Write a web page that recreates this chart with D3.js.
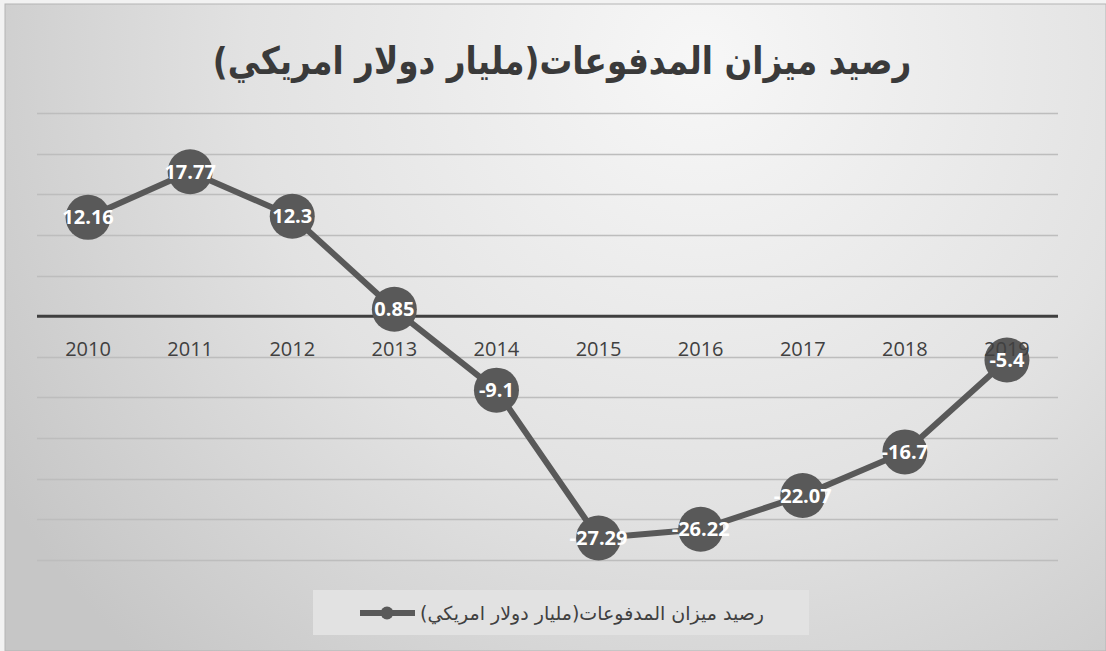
<!DOCTYPE html>
<html>
<head>
<meta charset="utf-8">
<script src="https://cdn.jsdelivr.net/npm/d3@7/dist/d3.min.js"></script>
<style>
  body { margin: 0; background: #f2f2f2; }
</style>
</head>
<body>
<div class="chart"></div>
<script>
// data
var years = ["2010", "2011", "2012", "2013", "2014", "2015", "2016", "2017", "2018", "2019"];
var balance = [12.16, 17.77, 12.3, 0.85, -9.1, -27.29, -26.22, -22.07, -16.7, -5.4];
var labels = ["12.16", "17.77", "12.3", "0.85", "-9.1", "-27.29", "-26.22", "-22.07", "-16.7", "-5.4"];
var gridTicks = [25, 20, 15, 10, 5, -5, -10, -15, -20, -25, -30];
var titleText = "رصيد ميزان المدفوعات(مليار دولار امريكي)";

var width = 1106, height = 651;
var lineColor = "#595959";

var svg = d3.select(".chart")
  .append("svg")
    .attr("width", width)
    .attr("height", height);

var defs = svg.append("defs");
var grad = defs.append("radialGradient")
  .attr("id", "bg")
  .attr("gradientUnits", "userSpaceOnUse")
  .attr("cx", 700).attr("cy", 60).attr("r", 820);
grad.append("stop").attr("offset", "0%").attr("stop-color", "#f7f7f7");
grad.append("stop").attr("offset", "55%").attr("stop-color", "#e2e2e2");
grad.append("stop").attr("offset", "100%").attr("stop-color", "#c6c6c6");

svg.append("rect")
  .attr("x", 5).attr("y", 4)
  .attr("width", width - 5).attr("height", height - 4)
  .attr("fill", "url(#bg)")
  .attr("stroke", "#b4b4b4")
  .attr("stroke-width", 1);

var x = d3.scaleBand()
  .domain(years)
  .range([37, 1058]);

var y = d3.scaleLinear()
  .domain([-30, 25])
  .range([560, 113]);

// gridlines
svg.selectAll(".grid")
  .data(gridTicks)
  .enter().append("line")
    .attr("class", "grid")
    .attr("x1", 37).attr("x2", 1058)
    .attr("y1", function(d) { return Math.round(y(d)) + 0.5; })
    .attr("y2", function(d) { return Math.round(y(d)) + 0.5; })
    .style("stroke", "#bdbdbd")
    .style("stroke-width", 1.3);

// zero line
svg.append("line")
  .attr("x1", 37).attr("x2", 1058)
  .attr("y1", y(0)).attr("y2", y(0))
  .style("stroke", "#3f3f3f")
  .style("stroke-width", 3);

// title (condensed a bit to look like the original bold Arabic face)
svg.append("g")
  .attr("transform", "translate(562,74) scale(0.86,1)")
  .append("text")
    .attr("x", 0)
    .attr("y", 0)
    .attr("direction", "rtl")
    .style("text-anchor", "middle")
    .style("font-family", "DejaVu Sans")
    .style("font-weight", "bold")
    .style("font-size", "38px")
    .style("fill", "#3a3a3a")
    .text(titleText);

var cx = function(d, i) { return x(years[i]) + x.bandwidth() / 2; };

var line = d3.line()
  .x(function(d, i) { return cx(d, i); })
  .y(function(d) { return y(d); });

svg.append("path")
  .datum(balance)
  .attr("d", line)
  .style("fill", "none")
  .style("stroke", lineColor)
  .style("stroke-width", 6)
  .style("stroke-linejoin", "round");

svg.selectAll(".dot")
  .data(balance)
  .enter().append("circle")
    .attr("class", "dot")
    .attr("cx", cx)
    .attr("cy", function(d) { return y(d); })
    .attr("r", 22.5)
    .style("fill", lineColor);

// category labels sit below the zero line
svg.selectAll(".year")
  .data(years)
  .enter().append("text")
    .attr("class", "year")
    .attr("x", function(d) { return x(d) + x.bandwidth() / 2; })
    .attr("y", y(0) + 40)
    .style("text-anchor", "middle")
    .style("font-family", "Open Sans")
    .style("font-size", "20px")
    .style("fill", "#404040")
    .text(function(d) { return d; });

// data labels
svg.selectAll(".val")
  .data(balance)
  .enter().append("text")
    .attr("class", "val")
    .attr("x", cx)
    .attr("y", function(d) { return y(d) + 7; })
    .style("text-anchor", "middle")
    .style("font-family", "Open Sans")
    .style("font-weight", "bold")
    .style("font-size", "20px")
    .style("fill", "#ffffff")
    .text(function(d, i) { return labels[i]; });

// legend
var legend = svg.append("g");
legend.append("rect")
  .attr("x", 313).attr("y", 590)
  .attr("width", 496).attr("height", 45)
  .style("fill", "#e2e2e2");
legend.append("line")
  .attr("x1", 360).attr("x2", 415)
  .attr("y1", 613).attr("y2", 613)
  .style("stroke", lineColor)
  .style("stroke-width", 6);
legend.append("circle")
  .attr("cx", 387).attr("cy", 613).attr("r", 6.5)
  .style("fill", lineColor);
legend.append("text")
  .attr("x", 592)
  .attr("y", 620)
  .attr("direction", "rtl")
  .style("text-anchor", "middle")
  .style("font-family", "DejaVu Sans")
  .style("font-size", "19px")
  .style("fill", "#404040")
  .text(titleText);
</script>
</body>
</html>
